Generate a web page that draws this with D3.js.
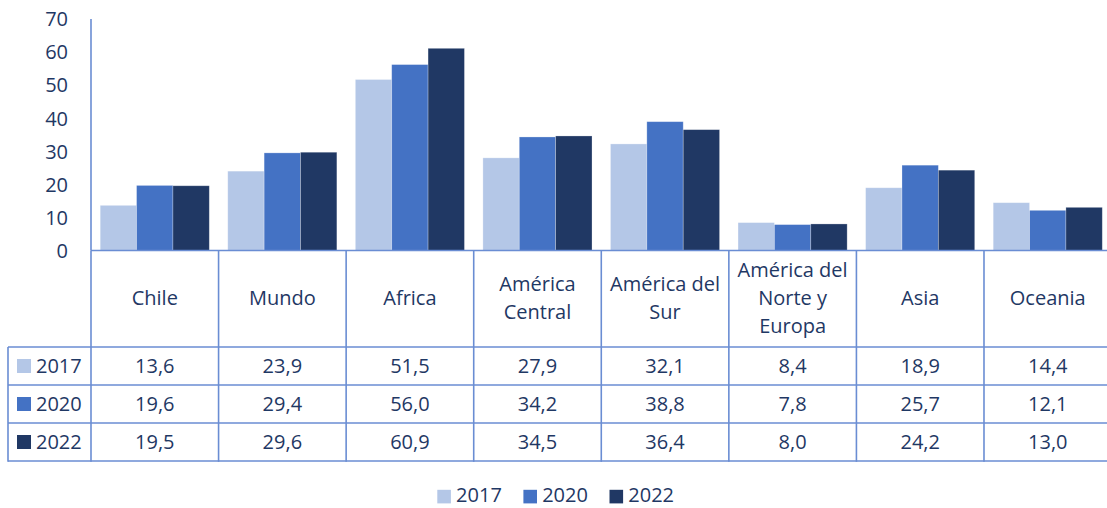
<!DOCTYPE html>
<html>
<head>
<meta charset="utf-8">
<script src="https://cdn.jsdelivr.net/npm/d3@7"></script>
<style>
  html, body { margin: 0; padding: 0; background: #ffffff; }
  svg { display: block; font-family: "Open Sans", "Noto Sans", sans-serif; }
</style>
</head>
<body>
<svg id="chart" width="1107" height="508"></svg>
<script>
const categories = ["Chile", "Mundo", "Africa", "América Central", "América del Sur", "América del Norte y Europa", "Asia", "Oceania"];
const categoryLines = [["Chile"], ["Mundo"], ["Africa"], ["América", "Central"], ["América del", "Sur"], ["América del", "Norte y", "Europa"], ["Asia"], ["Oceania"]];
const seriesNames = ["2017", "2020", "2022"];
const values2017 = [13.6, 23.9, 51.5, 27.9, 32.1, 8.4, 18.9, 14.4];
const values2020 = [19.6, 29.4, 56.0, 34.2, 38.8, 7.8, 25.7, 12.1];
const values2022 = [19.5, 29.6, 60.9, 34.5, 36.4, 8.0, 24.2, 13.0];
const seriesColors = ["#B4C7E7", "#4472C4", "#203864"];
const yTicks = [0, 10, 20, 30, 40, 50, 60, 70];

const seriesValues = [values2017, values2020, values2022];
const textColor = "#1F3864";
const lineColor = "#6A8DD3";
const fmt = v => v.toFixed(1).replace(".", ",");

const svg = d3.select("#chart");
const left = 91, catW = 127.57;
const x = d3.scaleBand().domain(categories).range([left, left + catW * categories.length]).padding(0);
const xs = d3.scaleBand().domain(seriesNames).range([9.2, 118.3]).padding(0);
const y = d3.scaleLinear().domain([0, 70]).range([250.5, 18.1]);

// Bars
const g = svg.append("g");
categories.forEach((c, ci) => {
  seriesNames.forEach((s, si) => {
    const v = seriesValues[si][ci];
    g.append("rect")
      .attr("x", x(c) + xs(s))
      .attr("y", y(v))
      .attr("width", xs.bandwidth())
      .attr("height", y(0) - y(v))
      .attr("fill", seriesColors[si])
      .attr("stroke", "#ffffff")
      .attr("stroke-opacity", 0.35)
      .attr("stroke-width", 0.75);
  });
});

// Y axis
const yAxis = d3.axisLeft(y).tickValues(yTicks).tickSize(0).tickPadding(0).tickFormat(d3.format("d"));
const ya = svg.append("g").attr("transform", `translate(68,0)`).call(yAxis);
ya.select(".domain").remove();
ya.selectAll("text")
  .attr("fill", textColor)
  .attr("font-size", "20px")
  .attr("font-family", "'Open Sans', sans-serif")
  .attr("dy", "0.37em");

svg.append("line")
  .attr("x1", left).attr("x2", left)
  .attr("y1", y(70) + 1).attr("y2", y(0))
  .attr("stroke", lineColor).attr("stroke-width", 1.6);

// Table
const rowTops = [347, 385, 423];
const rowH = 38;
const tableBottom = rowTops[2] + rowH;
const tableRight = left + catW * categories.length;
const tl = svg.append("g");

tl.append("line").attr("x1", left).attr("x2", tableRight).attr("y1", y(0)).attr("y2", y(0))
  .attr("stroke", lineColor).attr("stroke-width", 1.6);
[...rowTops, tableBottom].forEach(ry => {
  tl.append("line").attr("x1", 8).attr("x2", tableRight).attr("y1", ry).attr("y2", ry)
    .attr("stroke", lineColor).attr("stroke-width", 1.6);
});
for (let i = 0; i <= categories.length; i++) {
  const vx = left + catW * i;
  tl.append("line").attr("x1", vx).attr("x2", vx).attr("y1", y(0)).attr("y2", tableBottom + 0.8)
    .attr("stroke", lineColor).attr("stroke-width", 1.6);
}
tl.append("line").attr("x1", 8).attr("x2", 8).attr("y1", rowTops[0]).attr("y2", tableBottom + 0.8)
  .attr("stroke", lineColor).attr("stroke-width", 1.6);

categories.forEach((c, ci) => {
  const lines = categoryLines[ci];
  const n = lines.length;
  const cx = x(c) + catW / 2;
  lines.forEach((ln, li) => {
    tl.append("text")
      .attr("x", cx)
      .attr("y", 305 - (n - 1) * 14 + li * 28)
      .attr("text-anchor", "middle")
      .attr("fill", textColor)
      .attr("font-size", "20px")
      .text(ln);
  });
});

seriesNames.forEach((s, si) => {
  const top = rowTops[si];
  tl.append("rect").attr("x", 17).attr("y", top + 19 - 7).attr("width", 14).attr("height", 14)
    .attr("fill", seriesColors[si]);
  tl.append("text").attr("x", 36).attr("y", top + 26.3)
    .attr("fill", textColor).attr("font-size", "20px").text(s);
  categories.forEach((c, ci) => {
    tl.append("text")
      .attr("x", x(c) + catW / 2)
      .attr("y", top + 26.3)
      .attr("text-anchor", "middle")
      .attr("fill", textColor)
      .attr("font-size", "20px")
      .text(fmt(seriesValues[si][ci]));
  });
});

// Legend
const lg = svg.append("g");
const legendX0 = 437.3, legendStep = 86.1;
seriesNames.forEach((s, si) => {
  const lx = legendX0 + si * legendStep;
  lg.append("rect").attr("x", lx).attr("y", 489.8).attr("width", 13.6).attr("height", 13.6)
    .attr("fill", seriesColors[si]);
  lg.append("text").attr("x", lx + 18.8).attr("y", 502.4)
    .attr("fill", textColor).attr("font-size", "20px").text(s);
});
</script>
</body>
</html>
